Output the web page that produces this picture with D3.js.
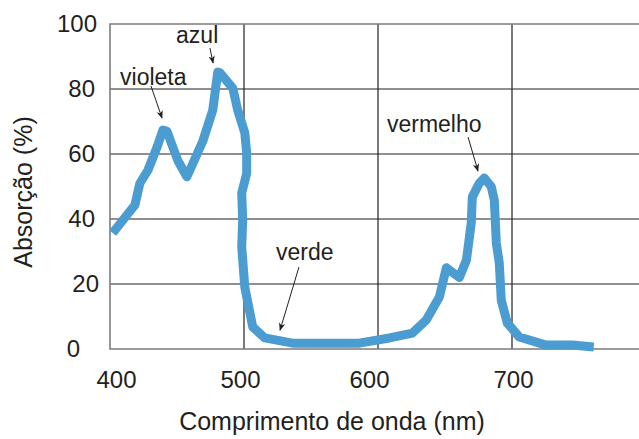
<!DOCTYPE html>
<html>
<head>
<meta charset="utf-8">
<script src="https://cdn.jsdelivr.net/npm/d3@7"></script>
<style>
  body { margin: 0; background: #fff; }
  svg text { font-family: "Liberation Sans", Arial, sans-serif; fill: #231f20; }
</style>
</head>
<body>
<div id="chart"></div>
<script>
// absorption spectrum (chlorophyll-like), wavelength in nm vs absorption in %
const wavelength = [402, 418.6, 422.3, 428.3, 435, 439.5, 442.5, 447, 450.6, 457.4,
  469.3, 476.7, 480.4, 482, 491.6, 495.3, 500.6, 502, 502, 498.3, 499, 498.3, 500.6,
  506.5, 515.5, 536.3, 586, 608.6, 625.7, 636, 645.8, 651, 660.7, 666, 669.6, 670.4,
  675.6, 679.3, 684.5, 686.8, 688.3, 690.5, 692, 696.5, 705.4, 725.5, 745, 761]
const absorption = [35.7, 44.3, 51, 55, 62, 67.4, 67, 62, 58, 53,
  64, 73.5, 85.2, 85, 80.3, 73.5, 66.5, 60.3, 54, 48, 39.7, 31.4, 19,
  6.8, 3.4, 1.8, 1.8, 3.4, 4.9, 8.9, 16, 25, 22, 27.4, 38.8, 46.8,
  51, 52.6, 50, 45.8, 32.6, 26.5, 15, 8, 3.7, 1.2, 1.2, 0.6]

const xTicks = [400, 500, 600, 700]
const yTicks = [0, 20, 40, 60, 80, 100]
const xGrid = [500, 600, 700]
const yGrid = [20, 40, 60, 80]

// annotation labels: text anchor point and arrow (from -> to), all in data units
const annLabels = ["azul", "violeta", "verde", "vermelho"]
const annText   = [[449.3, 94.2], [407.5, 81.2], [523.9, 27.4], [606.7, 66.8]]
const annFrom   = [[474.6, 92.6], [430.6, 80.9], [541, 25.2], [667.2, 65.2]]
const annTo     = [[476.9, 88], [438.8, 71.1], [526.9, 5.8], [674.6, 54.8]]

const W = 639, H = 439
const margin = { left: 110, top: 24, bottom: 349 }
const data = wavelength.map((w, i) => ({ w, a: absorption[i] }))

const svg = d3.select("#chart").append("svg")
  .attr("width", W).attr("height", H)

// plot is wider than the window on the right (800 nm falls just outside)
const x = d3.scaleLinear().domain([400, 800]).range([margin.left, 646])
const y = d3.scaleLinear().domain([0, 100]).range([margin.bottom, margin.top])

// gridlines
svg.append("g").selectAll("line")
  .data(yGrid).join("line")
  .attr("x1", margin.left).attr("x2", W)
  .attr("y1", d => y(d)).attr("y2", d => y(d))
  .attr("stroke", "#231f20").attr("stroke-width", 1.2)

svg.append("g").selectAll("line")
  .data(xGrid).join("line")
  .attr("x1", d => x(d)).attr("x2", d => x(d))
  .attr("y1", margin.top).attr("y2", margin.bottom)
  .attr("stroke", "#231f20").attr("stroke-width", 1.2)

// frame: top, left, bottom in grey
svg.append("path")
  .attr("d", `M${W},${margin.top}H${margin.left}V${margin.bottom}H${W}`)
  .attr("fill", "none").attr("stroke", "#7d7b7c").attr("stroke-width", 1.6)

// x axis labels (nudged a little like the original)
const xNudge = [6, -4, -9, 1]
const xAxis = svg.append("g")
  .attr("transform", `translate(0,${margin.bottom})`)
  .call(d3.axisBottom(x).tickValues(xTicks).tickSize(0).tickPadding(22))
xAxis.select(".domain").remove()
xAxis.selectAll("text")
  .attr("x", (d, i) => xNudge[i])
  .style("font-size", "24px").style("font-family", "Liberation Sans, Arial, sans-serif")
  .style("fill", "#231f20")

// y axis labels (the original isn't strictly right-aligned)
const yNudge = [-17, 2, -2, -2, -2, 0]
const yAxis = svg.append("g")
  .attr("transform", `translate(${margin.left},0)`)
  .call(d3.axisLeft(y).tickValues(yTicks).tickSize(0).tickPadding(13))
yAxis.select(".domain").remove()
yAxis.selectAll("text")
  .attr("dx", (d, i) => yNudge[i])
  .style("font-size", "24px").style("font-family", "Liberation Sans, Arial, sans-serif")
  .style("fill", "#231f20")

// axis titles
svg.append("text")
  .attr("x", 332).attr("y", 430)
  .attr("text-anchor", "middle")
  .style("font-size", "25px")
  .text("Comprimento de onda (nm)")

svg.append("text")
  .attr("transform", "rotate(-90)")
  .attr("x", -192).attr("y", 32)
  .attr("text-anchor", "middle")
  .style("font-size", "25px")
  .text("Absorção (%)")

// the spectrum curve
const line = d3.line().x(d => x(d.w)).y(d => y(d.a))
svg.append("path")
  .datum(data)
  .attr("d", line)
  .attr("fill", "none")
  .attr("stroke", "#4b9cd0")
  .attr("stroke-width", 9)
  .attr("stroke-linejoin", "round")

// arrowhead
svg.append("defs").append("marker")
  .attr("id", "arrow")
  .attr("viewBox", "0 0 10 10").attr("refX", 9).attr("refY", 5)
  .attr("markerWidth", 8).attr("markerHeight", 8)
  .attr("markerUnits", "userSpaceOnUse")
  .attr("orient", "auto")
  .append("path").attr("d", "M0,1 L10,5 L0,9 L3,5 Z").attr("fill", "#231f20")

annLabels.forEach((lab, i) => {
  svg.append("text")
    .attr("x", x(annText[i][0])).attr("y", y(annText[i][1]))
    .style("font-size", "23px")
    .text(lab)
  svg.append("line")
    .attr("x1", x(annFrom[i][0])).attr("y1", y(annFrom[i][1]))
    .attr("x2", x(annTo[i][0])).attr("y2", y(annTo[i][1]))
    .attr("stroke", "#231f20").attr("stroke-width", 1)
    .attr("marker-end", "url(#arrow)")
})
</script>
</body>
</html>
